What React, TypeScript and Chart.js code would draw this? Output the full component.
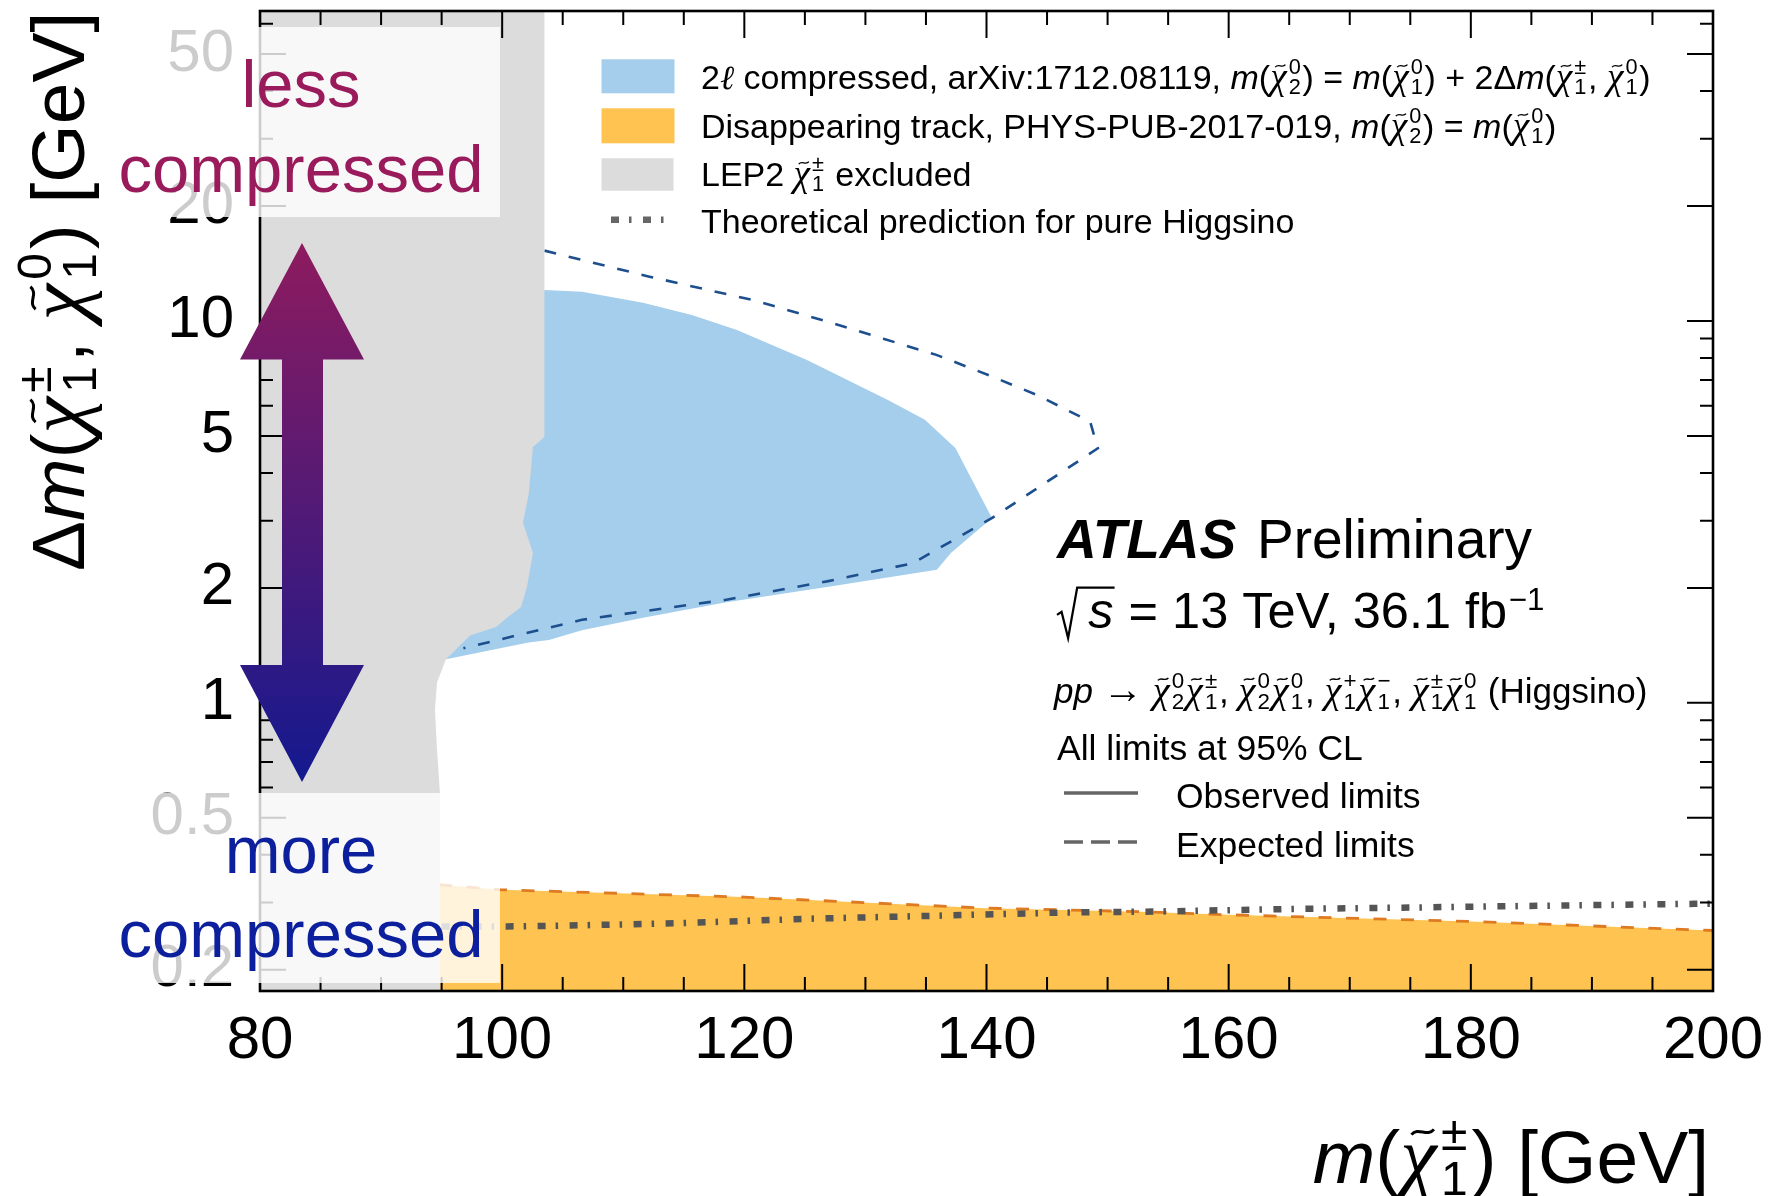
import React, { useEffect, useRef } from 'react';
import { Chart, registerables } from 'chart.js';

Chart.register(...registerables);

const W = 1790;
const H = 1196;
const SANS = "'Liberation Sans', Arial, Helvetica, sans-serif";
const SERIF = "'Liberation Serif', 'DejaVu Serif', 'Times New Roman', serif";

// ---------- axes ----------
const X_MIN = 80;
const X_MAX = 200;
const Y_MIN = 0.176;
const Y_MAX = 64.8;
const X_TICKS = [80, 100, 120, 140, 160, 180, 200];
const X_MINOR_TICKS = [85, 90, 95, 105, 110, 115, 125, 130, 135, 145, 150, 155, 165, 170, 175, 185, 190, 195];
const Y_TICKS = [0.2, 0.5, 1, 2, 5, 10, 20, 50];
const Y_MINOR_TICKS = [0.3, 0.4, 0.6, 0.7, 0.8, 0.9, 3, 4, 6, 7, 8, 9, 30, 40, 60];

// ---------- data: [m(chargino) GeV, delta m GeV] ----------
// LEP2 excluded region (closed polygon, corners beyond the axes)
const LEP2_EXCLUDED: number[][] = [
  [75, 100], [103.49, 100], [103.49, 4.97], [102.54, 4.68], [102.3, 3.84], [102.21, 3.55],
  [101.72, 2.96], [102.54, 2.47], [102.05, 2.01], [101.55, 1.78], [100.4, 1.67], [99.49, 1.58],
  [97.34, 1.5], [95.36, 1.3], [94.62, 1.13], [94.45, 0.959], [94.62, 0.753], [94.86, 0.581],
  [94.9, 0.1], [75, 0.1],
];

// 2l compressed observed exclusion contour
const OBS_2L: number[][] = [
  [103.49, 12.05], [106.59, 11.93], [111.63, 11.16], [115.67, 10.37], [119.39, 9.47],
  [125.13, 7.91], [131.86, 6.21], [134.91, 5.51], [137.43, 4.65], [140.45, 3.05],
  [137.06, 2.47], [135.9, 2.23], [126.82, 2.01], [118.4, 1.83], [111.63, 1.67],
  [106.59, 1.55], [103.86, 1.46], [102.18, 1.44], [95.36, 1.3],
];

// 2l compressed expected contour
const EXP_2L: number[][] = [
  [103.49, 15.28], [112.16, 13.06], [120.92, 11.3], [127.33, 9.86], [131.55, 8.97],
  [135.86, 8.15], [140.14, 7.22], [144.17, 6.4], [148.56, 5.45], [149.2, 4.64],
  [140.4, 3.04], [133.9, 2.32], [126.82, 2.08], [118.4, 1.86], [106.59, 1.65], [96.8, 1.39],
];

// disappearing track limit (upper edge of excluded band)
const DT_LIMIT: number[][] = [
  [94.8, 0.334], [99.92, 0.324], [120, 0.31], [140, 0.29], [152.67, 0.284],
  [160, 0.2786], [180, 0.2677], [200, 0.2535],
];
const DT_FLOOR = 0.1;

// theoretical prediction for pure Higgsino
const HIGGSINO_THEORY: number[][] = [
  [95, 0.2598], [100.4, 0.2598], [104.44, 0.2607], [114.88, 0.2651], [125.35, 0.2721],
  [135.78, 0.277], [146.29, 0.2825], [154.09, 0.2842], [164.63, 0.2884], [174.98, 0.2911],
  [185.44, 0.2941], [198.48, 0.2977], [200, 0.298],
];

// ---------- colours ----------
const BLUE_FILL = '#A4CEEC';
const ORANGE_FILL = '#FEC350';
const GRAY_FILL = '#DCDCDC';
const BLUE_LINE = '#1D4F8E';
const ORANGE_LINE = '#DE7A22';
const THEORY_LINE = '#555555';
const THEORY_DASH = [8, 10, 2.5, 11.5];

// ---------- rich text ----------
type Tok =
  | { k: 'n'; s: string }
  | { k: 'i'; s: string }
  | { k: 'bi'; s: string }
  | { k: 'sym'; s: string; it?: boolean; sc?: number }
  | { k: 'chi'; sub: string; sup: string }
  | { k: 'sup'; s: string }
  | { k: 'sqrt'; s: string };

const n = (s: string): Tok => ({ k: 'n', s });
const it = (s: string): Tok => ({ k: 'i', s });
const bi = (s: string): Tok => ({ k: 'bi', s });
const sym = (s: string, i = false, sc = 1): Tok => ({ k: 'sym', s, it: i, sc });
const chi = (sub: string, sup: string): Tok => ({ k: 'chi', sub, sup });
const sup = (s: string): Tok => ({ k: 'sup', s });
const sqrt = (s: string): Tok => ({ k: 'sqrt', s });

function runRich(ctx: CanvasRenderingContext2D, toks: Tok[], x: number, y: number, size: number, draw: boolean): number {
  let cx = x;
  for (const t of toks) {
    if (t.k === 'n' || t.k === 'i' || t.k === 'bi' || t.k === 'sym') {
      if (t.k === 'n') ctx.font = `${size}px ${SANS}`;
      else if (t.k === 'i') ctx.font = `italic ${size}px ${SANS}`;
      else if (t.k === 'bi') ctx.font = `italic bold ${size}px ${SANS}`;
      else ctx.font = `${t.it ? 'italic ' : ''}${size * (t.sc || 1)}px ${SERIF}`;
      if (draw) ctx.fillText(t.s, cx, y);
      cx += ctx.measureText(t.s).width;
    } else if (t.k === 'chi') {
      ctx.font = `italic ${size * 1.1}px ${SERIF}`;
      const wc = ctx.measureText('\u03c7').width;
      if (draw) {
        ctx.fillText('\u03c7', cx, y);
        const tw = size * 0.3;
        const tx0 = cx + wc * 0.62 - tw / 2;
        const ty = y - size * 0.68;
        const a = size * 0.035;
        ctx.save();
        ctx.lineWidth = Math.max(1, size * 0.04);
        ctx.beginPath();
        ctx.moveTo(tx0, ty + a);
        ctx.bezierCurveTo(tx0 + tw * 0.3, ty - a * 2.2, tx0 + tw * 0.7, ty + a * 2.2, tx0 + tw, ty - a);
        ctx.stroke();
        ctx.restore();
      }
      ctx.font = `${size * 0.64}px ${SANS}`;
      const ws = ctx.measureText(t.sub).width;
      const wu = ctx.measureText(t.sup).width;
      const sx = cx + wc + size * 0.06;
      if (draw) {
        ctx.fillText(t.sub, sx, y + size * 0.16);
        ctx.fillText(t.sup, sx, y - size * 0.44);
      }
      cx = sx + Math.max(ws, wu) + size * 0.05;
    } else if (t.k === 'sup') {
      ctx.font = `${size * 0.62}px ${SANS}`;
      const w = ctx.measureText(t.s).width;
      if (draw) ctx.fillText(t.s, cx + size * 0.03, y - size * 0.36);
      cx += w + size * 0.05;
    } else if (t.k === 'sqrt') {
      const f = size;
      ctx.font = `italic ${f}px ${SANS}`;
      const ws = ctx.measureText(t.s).width;
      const sx = cx + 0.62 * f;
      if (draw) {
        ctx.save();
        ctx.lineWidth = f * 0.045;
        ctx.beginPath();
        ctx.moveTo(cx, y - 0.26 * f);
        ctx.lineTo(cx + 0.09 * f, y - 0.32 * f);
        ctx.lineTo(cx + 0.22 * f, y + 0.2 * f);
        ctx.lineTo(cx + 0.4 * f, y - 0.8 * f);
        ctx.lineTo(sx + ws + 0.02 * f, y - 0.8 * f);
        ctx.stroke();
        ctx.restore();
        ctx.fillText(t.s, sx, y);
      }
      cx = sx + ws + 0.02 * f;
    }
  }
  return cx - x;
}

function rich(ctx: CanvasRenderingContext2D, toks: Tok[], x: number, y: number, size: number, color: string, align: 'left' | 'right' | 'center' = 'left') {
  ctx.save();
  ctx.textBaseline = 'alphabetic';
  ctx.textAlign = 'left';
  ctx.fillStyle = color;
  ctx.strokeStyle = color;
  const w = runRich(ctx, toks, 0, 0, size, false);
  const x0 = align === 'left' ? x : align === 'right' ? x - w : x - w / 2;
  runRich(ctx, toks, x0, y, size, true);
  ctx.restore();
  return w;
}

// ---------- texts ----------
const LEGEND_ROWS: Tok[][] = [
  [n('2'), sym('\u2113', true), n(' compressed, arXiv:1712.08119, '), it('m'), n('('), chi('2', '0'), n(') = '), it('m'), n('('), chi('1', '0'), n(') + 2\u0394'), it('m'), n('('), chi('1', '\u00b1'), n(', '), chi('1', '0'), n(')')],
  [n('Disappearing track, PHYS-PUB-2017-019, '), it('m'), n('('), chi('2', '0'), n(') = '), it('m'), n('('), chi('1', '0'), n(')')],
  [n('LEP2 '), chi('1', '\u00b1'), n(' excluded')],
  [n('Theoretical prediction for pure Higgsino')],
];
const ATLAS_TEXT = 'ATLAS';
const PRELIM_TEXT = 'Preliminary';
const ENERGY_LINE: Tok[] = [sqrt('s'), n(' = 13 TeV, 36.1 fb'), sup('\u22121')];
const PROCESS_LINE: Tok[] = [it('pp'), n(' '), sym('\u2192', false, 1.15), n(' '), chi('2', '0'), chi('1', '\u00b1'), n(', '), chi('2', '0'), chi('1', '0'), n(', '), chi('1', '+'), chi('1', '\u2212'), n(', '), chi('1', '\u00b1'), chi('1', '0'), n(' (Higgsino)')];
const CL_LINE = 'All limits at 95% CL';
const OBS_LABEL = 'Observed limits';
const EXP_LABEL = 'Expected limits';
const X_TITLE: Tok[] = [it('m'), n('('), chi('1', '\u00b1'), n(') [GeV]')];
const Y_TITLE: Tok[] = [n('\u0394'), it('m'), n('('), chi('1', '\u00b1'), n(', '), chi('1', '0'), n(') [GeV]')];

const pts = (arr: number[][]) => arr.map(([x, y]) => ({ x, y }));

const framePlugin = {
  id: 'frameTicks',
  afterDatasetsDraw(chart: any) {
    const { ctx, chartArea: a, scales } = chart;
    const xs = scales.x;
    const ys = scales.y;
    ctx.save();
    ctx.strokeStyle = '#000';
    ctx.lineWidth = 2;
    ctx.beginPath();
    const xt = (v: number, L: number) => {
      const p = xs.getPixelForValue(v);
      ctx.moveTo(p, a.bottom);
      ctx.lineTo(p, a.bottom - L);
      ctx.moveTo(p, a.top);
      ctx.lineTo(p, a.top + L);
    };
    const yt = (v: number, L: number) => {
      const p = ys.getPixelForValue(v);
      ctx.moveTo(a.left, p);
      ctx.lineTo(a.left + L, p);
      ctx.moveTo(a.right, p);
      ctx.lineTo(a.right - L, p);
    };
    X_TICKS.forEach((v) => xt(v, 27));
    X_MINOR_TICKS.forEach((v) => xt(v, 14));
    Y_TICKS.forEach((v) => yt(v, 26));
    Y_MINOR_TICKS.forEach((v) => yt(v, 13));
    ctx.stroke();
    ctx.lineWidth = 2.6;
    ctx.strokeRect(a.left, a.top, a.right - a.left, a.bottom - a.top);
    ctx.restore();
  },
  afterDraw(chart: any) {
    const ctx: CanvasRenderingContext2D = chart.ctx;
    ctx.save();
    // double arrow
    const g = ctx.createLinearGradient(0, 243, 0, 782);
    g.addColorStop(0, '#8E1B5E');
    g.addColorStop(1, '#13198F');
    ctx.fillStyle = g;
    ctx.beginPath();
    ctx.moveTo(302, 243);
    ctx.lineTo(364, 359.5);
    ctx.lineTo(323, 359.5);
    ctx.lineTo(323, 665);
    ctx.lineTo(364, 665);
    ctx.lineTo(302, 782);
    ctx.lineTo(240, 665);
    ctx.lineTo(282, 665);
    ctx.lineTo(282, 359.5);
    ctx.lineTo(240, 359.5);
    ctx.closePath();
    ctx.fill();

    // translucent boxes
    ctx.fillStyle = 'rgba(255,255,255,0.8)';
    ctx.fillRect(112, 27, 388, 190);
    ctx.fillRect(112, 793, 388, 190);

    ctx.textAlign = 'center';
    ctx.textBaseline = 'alphabetic';
    ctx.font = `67px ${SANS}`;
    ctx.fillStyle = '#9A1B5B';
    ctx.fillText('less', 301, 107);
    ctx.fillText('compressed', 301, 192);
    ctx.fillStyle = '#0C1F9C';
    ctx.fillText('more', 301, 873);
    ctx.fillText('compressed', 301, 957);
    ctx.restore();

    // legend
    ctx.save();
    ctx.fillStyle = BLUE_FILL;
    ctx.fillRect(601.5, 59.3, 73, 34);
    ctx.fillStyle = ORANGE_FILL;
    ctx.fillRect(601.5, 108.3, 73, 35);
    ctx.fillStyle = GRAY_FILL;
    ctx.fillRect(601.5, 158.3, 72, 32.4);
    ctx.strokeStyle = '#666';
    ctx.lineWidth = 6.5;
    ctx.setLineDash(THEORY_DASH);
    ctx.beginPath();
    ctx.moveTo(611, 219.7);
    ctx.lineTo(670, 219.7);
    ctx.stroke();
    ctx.setLineDash([]);
    ctx.restore();
    const rowsY = [89, 138, 186, 233];
    LEGEND_ROWS.forEach((r, i) => rich(ctx, r, 701, rowsY[i], 34, '#000'));

    // ATLAS block
    rich(ctx, [bi(ATLAS_TEXT)], 1057, 558, 55, '#000');
    rich(ctx, [n(PRELIM_TEXT)], 1257, 558, 55, '#000');
    rich(ctx, ENERGY_LINE, 1057, 628, 50.5, '#000');
    rich(ctx, PROCESS_LINE, 1054, 703, 35, '#000');
    rich(ctx, [n(CL_LINE)], 1057, 760, 35.5, '#000');
    ctx.save();
    ctx.strokeStyle = '#666';
    ctx.lineWidth = 3.5;
    ctx.beginPath();
    ctx.moveTo(1064, 793);
    ctx.lineTo(1138, 793);
    ctx.stroke();
    ctx.setLineDash([19, 8]);
    ctx.beginPath();
    ctx.moveTo(1064, 842);
    ctx.lineTo(1138, 842);
    ctx.stroke();
    ctx.restore();
    rich(ctx, [n(OBS_LABEL)], 1176, 808, 35.5, '#000');
    rich(ctx, [n(EXP_LABEL)], 1176, 857, 35.5, '#000');

    // axis titles
    rich(ctx, X_TITLE, 1709, 1183, 75, '#000', 'right');
    ctx.save();
    ctx.translate(84, 571);
    ctx.rotate(-Math.PI / 2);
    rich(ctx, Y_TITLE, 0, 0, 75, '#000', 'left');
    ctx.restore();
  },
};

export default function App() {
  const ref = useRef<HTMLCanvasElement>(null);
  useEffect(() => {
    const canvas = ref.current;
    if (!canvas) return;
    Chart.defaults.font.family = SANS;
    const chart = new Chart(canvas, {
      type: 'line',
      data: {
        datasets: [
          {
            label: 'LEP2 excluded',
            data: pts(LEP2_EXCLUDED),
            fill: 'shape',
            backgroundColor: GRAY_FILL,
            borderColor: 'rgba(0,0,0,0)',
            borderWidth: 0,
            pointRadius: 0,
            tension: 0,
            order: 1,
          },
          {
            label: 'Theoretical prediction for pure Higgsino',
            data: pts(HIGGSINO_THEORY),
            fill: false,
            borderColor: THEORY_LINE,
            borderWidth: 6.5,
            borderDash: THEORY_DASH,
            pointRadius: 0,
            tension: 0,
            order: 2,
          },
          {
            label: 'Disappearing track expected',
            data: pts(DT_LIMIT),
            fill: false,
            borderColor: ORANGE_LINE,
            borderWidth: 2.8,
            borderDash: [13, 14.5],
            pointRadius: 0,
            tension: 0,
            order: 3,
          },
          {
            label: '2l compressed expected',
            data: pts(EXP_2L),
            fill: false,
            borderColor: BLUE_LINE,
            borderWidth: 2.6,
            borderDash: [12, 13],
            pointRadius: 0,
            tension: 0,
            order: 4,
          },
          {
            label: 'Disappearing track observed',
            data: pts([...DT_LIMIT, [X_MAX, DT_FLOOR], [DT_LIMIT[0][0], DT_FLOOR]]),
            fill: 'shape',
            backgroundColor: ORANGE_FILL,
            borderColor: 'rgba(0,0,0,0)',
            borderWidth: 0,
            pointRadius: 0,
            tension: 0,
            order: 5,
          },
          {
            label: '2l compressed observed',
            data: pts(OBS_2L),
            fill: 'shape',
            backgroundColor: BLUE_FILL,
            borderColor: 'rgba(0,0,0,0)',
            borderWidth: 0,
            pointRadius: 0,
            tension: 0,
            order: 6,
          },
        ],
      },
      options: {
        responsive: false,
        animation: false,
        devicePixelRatio: 1,
        events: [],
        layout: { padding: { top: 11, right: 77, left: 0, bottom: 0 } },
        plugins: { legend: { display: false }, tooltip: { enabled: false } },
        scales: {
          x: {
            type: 'linear',
            min: X_MIN,
            max: X_MAX,
            grid: { display: false, drawTicks: false },
            border: { display: false },
            ticks: {
              autoSkip: false,
              maxRotation: 0,
              padding: 14,
              color: '#000',
              font: { family: SANS, size: 60 },
              callback: (v: any) => String(v),
            },
            afterBuildTicks: (s: any) => {
              s.ticks = X_TICKS.map((v) => ({ value: v }));
            },
            afterFit: (s: any) => {
              s.height = 205;
              s.paddingLeft = 0;
              s.paddingRight = 0;
            },
          },
          y: {
            type: 'logarithmic',
            min: Y_MIN,
            max: Y_MAX,
            grid: { display: false, drawTicks: false },
            border: { display: false },
            ticks: {
              autoSkip: false,
              padding: 26,
              color: '#000',
              font: { family: SANS, size: 60 },
              callback: (v: any) => String(v),
            },
            afterBuildTicks: (s: any) => {
              s.ticks = Y_TICKS.map((v) => ({ value: v }));
            },
            afterFit: (s: any) => {
              s.width = 260;
              s.paddingTop = 0;
              s.paddingBottom = 0;
            },
          },
        },
      } as any,
      plugins: [framePlugin as any],
    });
    return () => chart.destroy();
  }, []);
  return (
    <div style={{ position: 'absolute', left: 0, top: 0, width: W, height: H, background: '#fff' }}>
      <canvas ref={ref} width={W} height={H} style={{ width: W, height: H, display: 'block' }} />
    </div>
  );
}
